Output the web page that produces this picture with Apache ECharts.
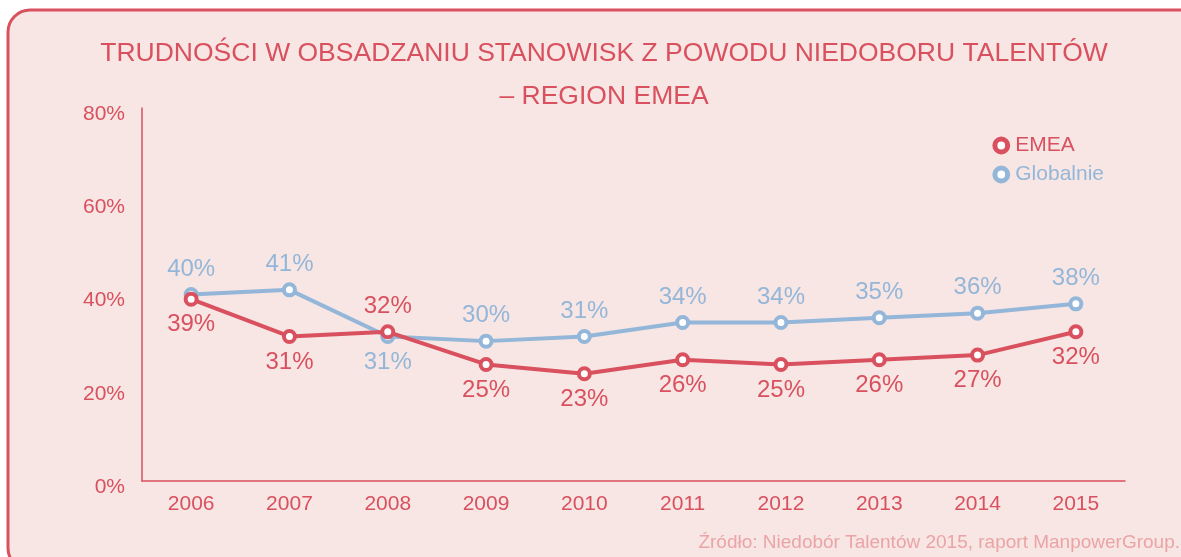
<!DOCTYPE html>
<html>
<head>
<meta charset="utf-8">
<script src="https://cdn.jsdelivr.net/npm/echarts@6/dist/echarts.min.js"></script>
<style>
  html, body { margin: 0; padding: 0; background: #fff; }
  #chart { width: 1181px; height: 557px; }
</style>
</head>
<body>
<div id="chart"></div>
<script>
// dane z wykresu
var years = ["2006", "2007", "2008", "2009", "2010", "2011", "2012", "2013", "2014", "2015"];
var emea = [39, 31, 32, 25, 23, 26, 25, 26, 27, 32];
var globalnie = [40, 41, 31, 30, 31, 34, 34, 35, 36, 38];
var yTicks = [0, 20, 40, 60, 80];

var RED = "#d9505e";
var BLUE = "#94b6d8";
var FONT = "Liberation Sans, Arial, sans-serif";

var chart = echarts.init(document.getElementById("chart"));

// etykiety: EMEA pod punktem, Globalnie nad (poza 2008 gdzie odwrotnie)
var emeaData = emea.map(function (v, i) {
  return { value: v, label: { position: years[i] === "2008" ? "top" : "bottom" } };
});
var globData = globalnie.map(function (v, i) {
  return { value: v, label: { position: years[i] === "2008" ? "bottom" : "top" } };
});

var option = {
  backgroundColor: "#ffffff",
  textStyle: { fontFamily: FONT },
  graphic: [
    {
      type: "rect",
      z: -10,
      silent: true,
      shape: { x: 8, y: 10, width: 1220, height: 560, r: 22 },
      style: { fill: "#f7e6e4", stroke: RED, lineWidth: 3 }
    },
    {
      type: "text",
      x: 604,
      y: 32,
      style: {
        text: "TRUDNOŚCI W OBSADZANIU STANOWISK Z POWODU NIEDOBORU TALENTÓW\n– REGION EMEA",
        fill: RED,
        font: "26.5px " + FONT,
        align: "center",
        lineHeight: 43
      }
    },
    {
      type: "text",
      right: 1,
      top: 533,
      style: {
        text: "Źródło: Niedobór Talentów 2015, raport ManpowerGroup.",
        fill: "#eba4a6",
        font: "19px " + FONT
      }
    }
  ],
  legend: {
    orient: "vertical",
    right: 72,
    top: 130,
    itemWidth: 16,
    itemHeight: 16,
    itemGap: 8,
    itemStyle: { borderWidth: 5 },
    data: [
      { name: "EMEA", textStyle: { color: RED } },
      { name: "Globalnie", textStyle: { color: BLUE } }
    ],
    textStyle: { fontSize: 21, fontFamily: FONT, padding: [0, 0, 0, 1] }
  },
  grid: { left: 142, right: 56, top: 108, bottom: 76 },
  xAxis: {
    type: "category",
    data: years,
    boundaryGap: true,
    axisLine: { lineStyle: { color: RED, width: 1.5 } },
    axisTick: { inside: true, length: 9, lineStyle: { color: RED, width: 1.5 } },
    axisLabel: { color: RED, fontSize: 21, margin: 13, fontFamily: FONT },
    splitLine: { show: false }
  },
  yAxis: {
    type: "value",
    min: yTicks[0],
    max: yTicks[yTicks.length - 1],
    interval: 20,
    axisLine: { show: true, lineStyle: { color: RED, width: 1.5 } },
    axisTick: { show: false },
    splitLine: { show: false },
    axisLabel: {
      color: RED,
      fontSize: 21,
      margin: 17,
      fontFamily: FONT,
      formatter: "{a|{value}%}",
      rich: {
        a: { color: RED, fontSize: 21, fontFamily: FONT, padding: [12, 0, 0, 0] }
      }
    }
  },
  series: [
    {
      name: "Globalnie",
      type: "line",
      data: globData,
      z: 2,
      symbol: "circle",
      symbolSize: 11,
      lineStyle: { width: 4, color: BLUE },
      itemStyle: { color: "#ffffff", borderColor: BLUE, borderWidth: 4 },
      label: {
        show: true,
        color: BLUE,
        fontSize: 24,
        fontFamily: FONT,
        distance: 6,
        formatter: "{c}%"
      }
    },
    {
      name: "EMEA",
      type: "line",
      data: emeaData,
      z: 3,
      symbol: "circle",
      symbolSize: 11,
      lineStyle: { width: 4, color: RED },
      itemStyle: { color: "#ffffff", borderColor: RED, borderWidth: 4 },
      label: {
        show: true,
        color: RED,
        fontSize: 24,
        fontFamily: FONT,
        distance: 6,
        formatter: "{c}%"
      }
    }
  ]
};

chart.setOption(option);
</script>
</body>
</html>
